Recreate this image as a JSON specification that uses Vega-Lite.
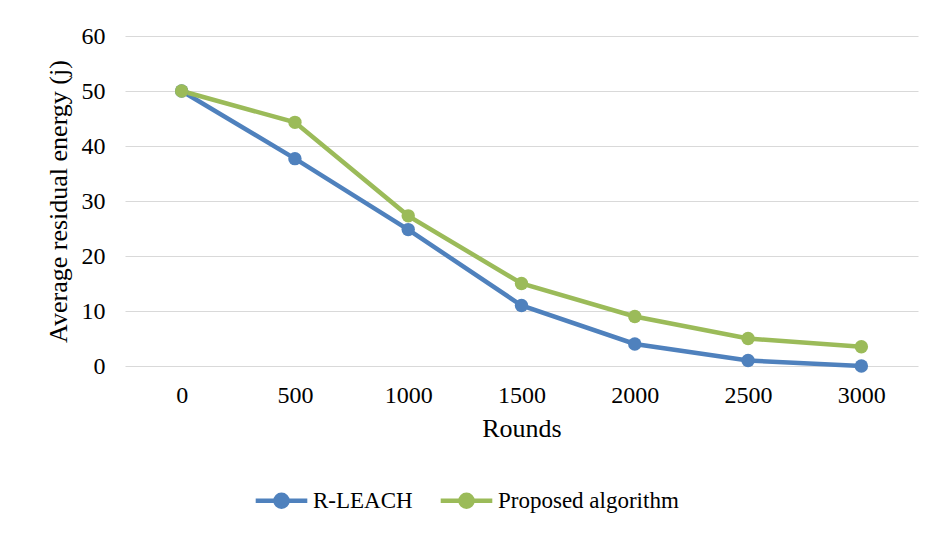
{
  "$schema": "https://vega.github.io/schema/vega-lite/v6.json",
  "autosize": "none",
  "width": 793,
  "height": 330,
  "padding": {"left": 125, "top": 36, "right": 18, "bottom": 169},
  "background": "white",
  "config": {
    "font": "Liberation Serif",
    "view": {"stroke": null},
    "axis": {"labelFont": "Liberation Serif", "titleFont": "Liberation Serif", "labelColor": "#000000", "titleColor": "#000000", "titleFontWeight": "normal"},
    "legend": {"labelFont": "Liberation Serif", "labelColor": "#000000"}
  },
  "data": {
    "values": [
      {"round": 0, "series": "R-LEACH", "value": 50},
      {"round": 500, "series": "R-LEACH", "value": 37.7},
      {"round": 1000, "series": "R-LEACH", "value": 24.8},
      {"round": 1500, "series": "R-LEACH", "value": 11},
      {"round": 2000, "series": "R-LEACH", "value": 4},
      {"round": 2500, "series": "R-LEACH", "value": 1},
      {"round": 3000, "series": "R-LEACH", "value": 0},
      {"round": 0, "series": "Proposed algorithm", "value": 50},
      {"round": 500, "series": "Proposed algorithm", "value": 44.3},
      {"round": 1000, "series": "Proposed algorithm", "value": 27.3},
      {"round": 1500, "series": "Proposed algorithm", "value": 15},
      {"round": 2000, "series": "Proposed algorithm", "value": 9},
      {"round": 2500, "series": "Proposed algorithm", "value": 5},
      {"round": 3000, "series": "Proposed algorithm", "value": 3.5}
    ]
  },
  "encoding": {
    "x": {
      "field": "round", "type": "ordinal",
      "scale": {"type": "point", "padding": 0.5},
      "axis": {"title": "Rounds", "labelAngle": 0, "labelFontSize": 24, "titleFontSize": 26, "labelPadding": 17, "titlePadding": 8, "ticks": false, "domain": false, "grid": false}
    },
    "y": {
      "field": "value", "type": "quantitative",
      "scale": {"domain": [0, 60], "nice": false},
      "axis": {"title": "Average residual energy (j)", "values": [0, 10, 20, 30, 40, 50, 60], "labelFontSize": 24, "titleFontSize": 26, "labelPadding": 20, "titlePadding": 10, "ticks": false, "domain": false, "grid": true, "gridColor": "#d9d9d9", "gridWidth": 1}
    },
    "color": {
      "field": "series", "type": "nominal",
      "sort": ["R-LEACH", "Proposed algorithm"],
      "scale": {"domain": ["R-LEACH", "Proposed algorithm"], "range": ["#4F81BD", "#9BBB59"]},
      "legend": {
        "title": null, "orient": "none", "direction": "horizontal",
        "legendX": 145, "legendY": 453,
        "labelFontSize": 23, "labelLimit": 400, "labelOffset": 20, "columnPadding": 18,
        "symbolType": "M-4.3,0H4.3M-1,0A1,1 0 1,0 1,0A1,1 0 1,0 -1,0Z",
        "symbolSize": 144, "symbolStrokeWidth": 4.5
      }
    }
  },
  "layer": [
    {"mark": {"type": "line", "strokeWidth": 4.5}},
    {"mark": {"type": "point", "filled": true, "opacity": 1, "size": 180}}
  ]
}
